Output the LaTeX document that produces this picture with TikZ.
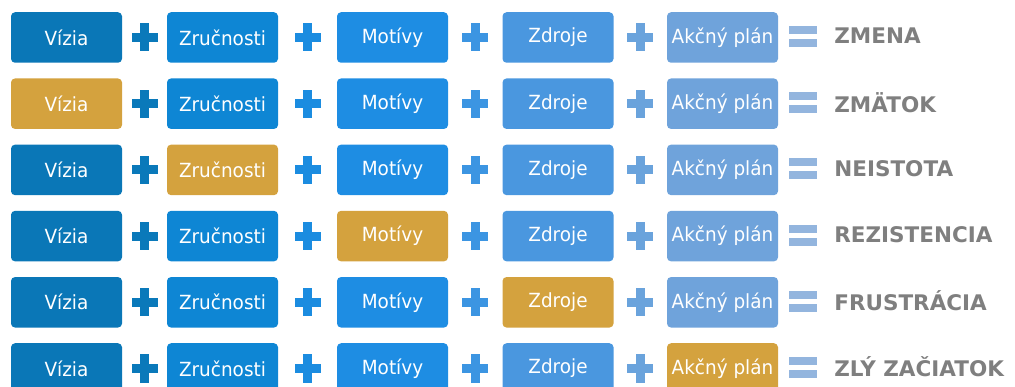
\documentclass[tikz,border=0pt]{standalone}
\usepackage{fontspec}
\setmainfont{DejaVu Sans}
\usetikzlibrary{calc}
\definecolor{c1}{HTML}{0A77B7}
\definecolor{c2}{HTML}{0E86D4}
\definecolor{c3}{HTML}{1E8DE3}
\definecolor{c4}{HTML}{4A97DF}
\definecolor{c5}{HTML}{6FA3DB}
\definecolor{gold}{HTML}{D4A23E}
\definecolor{plus1}{HTML}{0A79BA}
\definecolor{plus2}{HTML}{1B8CE0}
\definecolor{plus3}{HTML}{3C95E2}
\definecolor{plus4}{HTML}{6AA3DC}
\definecolor{eqbar}{HTML}{93B5DE}
\definecolor{resgray}{HTML}{7F7F7F}
\tikzset{
  box/.style={rounded corners=4pt,minimum width=111pt,minimum height=50.5pt,
    inner sep=0pt,text=white,font=\fontsize{19.5}{22}\selectfont},
  result/.style={anchor=west,inner sep=0pt,text=resgray,
    font=\bfseries\fontsize{21.5}{25}\selectfont},
}
% slightly narrowed box text
\newcommand{\boxtext}[1]{\scalebox{0.945}[1]{#1}}

\begin{document}
\begin{tikzpicture}[x=1pt,y=-1pt]
  \useasboundingbox (0,0) rectangle (1015,387);
  % one row per missing ingredient; \g = which box turns gold
  \foreach \r/\g/\res in {1/0/ZMENA,2/1/ZMÄTOK,3/2/NEISTOTA,4/3/REZISTENCIA,
                          5/4/FRUSTRÁCIA,6/5/ZLÝ ZAČIATOK}{
    \pgfmathsetmacro{\yy}{37.5+(\r-1)*66.2}
    \foreach \c/\x/\lbl in {1/66.5/Vízia,2/222.5/Zručnosti,3/392.5/Motívy,
                            4/558/Zdroje,5/722.5/Akčný plán}{
      \ifnum\c=\g \def\fc{gold}\else\def\fc{c\c}\fi
      \node[box,fill=\fc] (b\r\c) at (\x,\yy) {\boxtext{\lbl}};}
    % plus signs between the boxes
    \foreach \c [evaluate=\c as \n using int(\c+1)] in {1,...,4}{
      \coordinate (p\r\c) at ($(b\r\c.east)!0.5!(b\r\n.west)$);
      \fill[plus\c] ($(p\r\c)+(-13,-4.5)$) rectangle ++(26,9);
      \fill[plus\c] ($(p\r\c)+(-4.5,-14)$) rectangle ++(9,28);}
    % equals sign and the outcome
    \coordinate (e\r) at ($(b\r5.east)+(24.5,-1)$);
    \fill[eqbar] ($(e\r)+(-14,-10.5)$) rectangle ++(28,8);
    \fill[eqbar] ($(e\r)+(-14,2.5)$) rectangle ++(28,8);
    \node[result] (r\r) at ($(b\r5.east)+(56,-1.5)$) {\res};
  }
\end{tikzpicture}
\end{document}
